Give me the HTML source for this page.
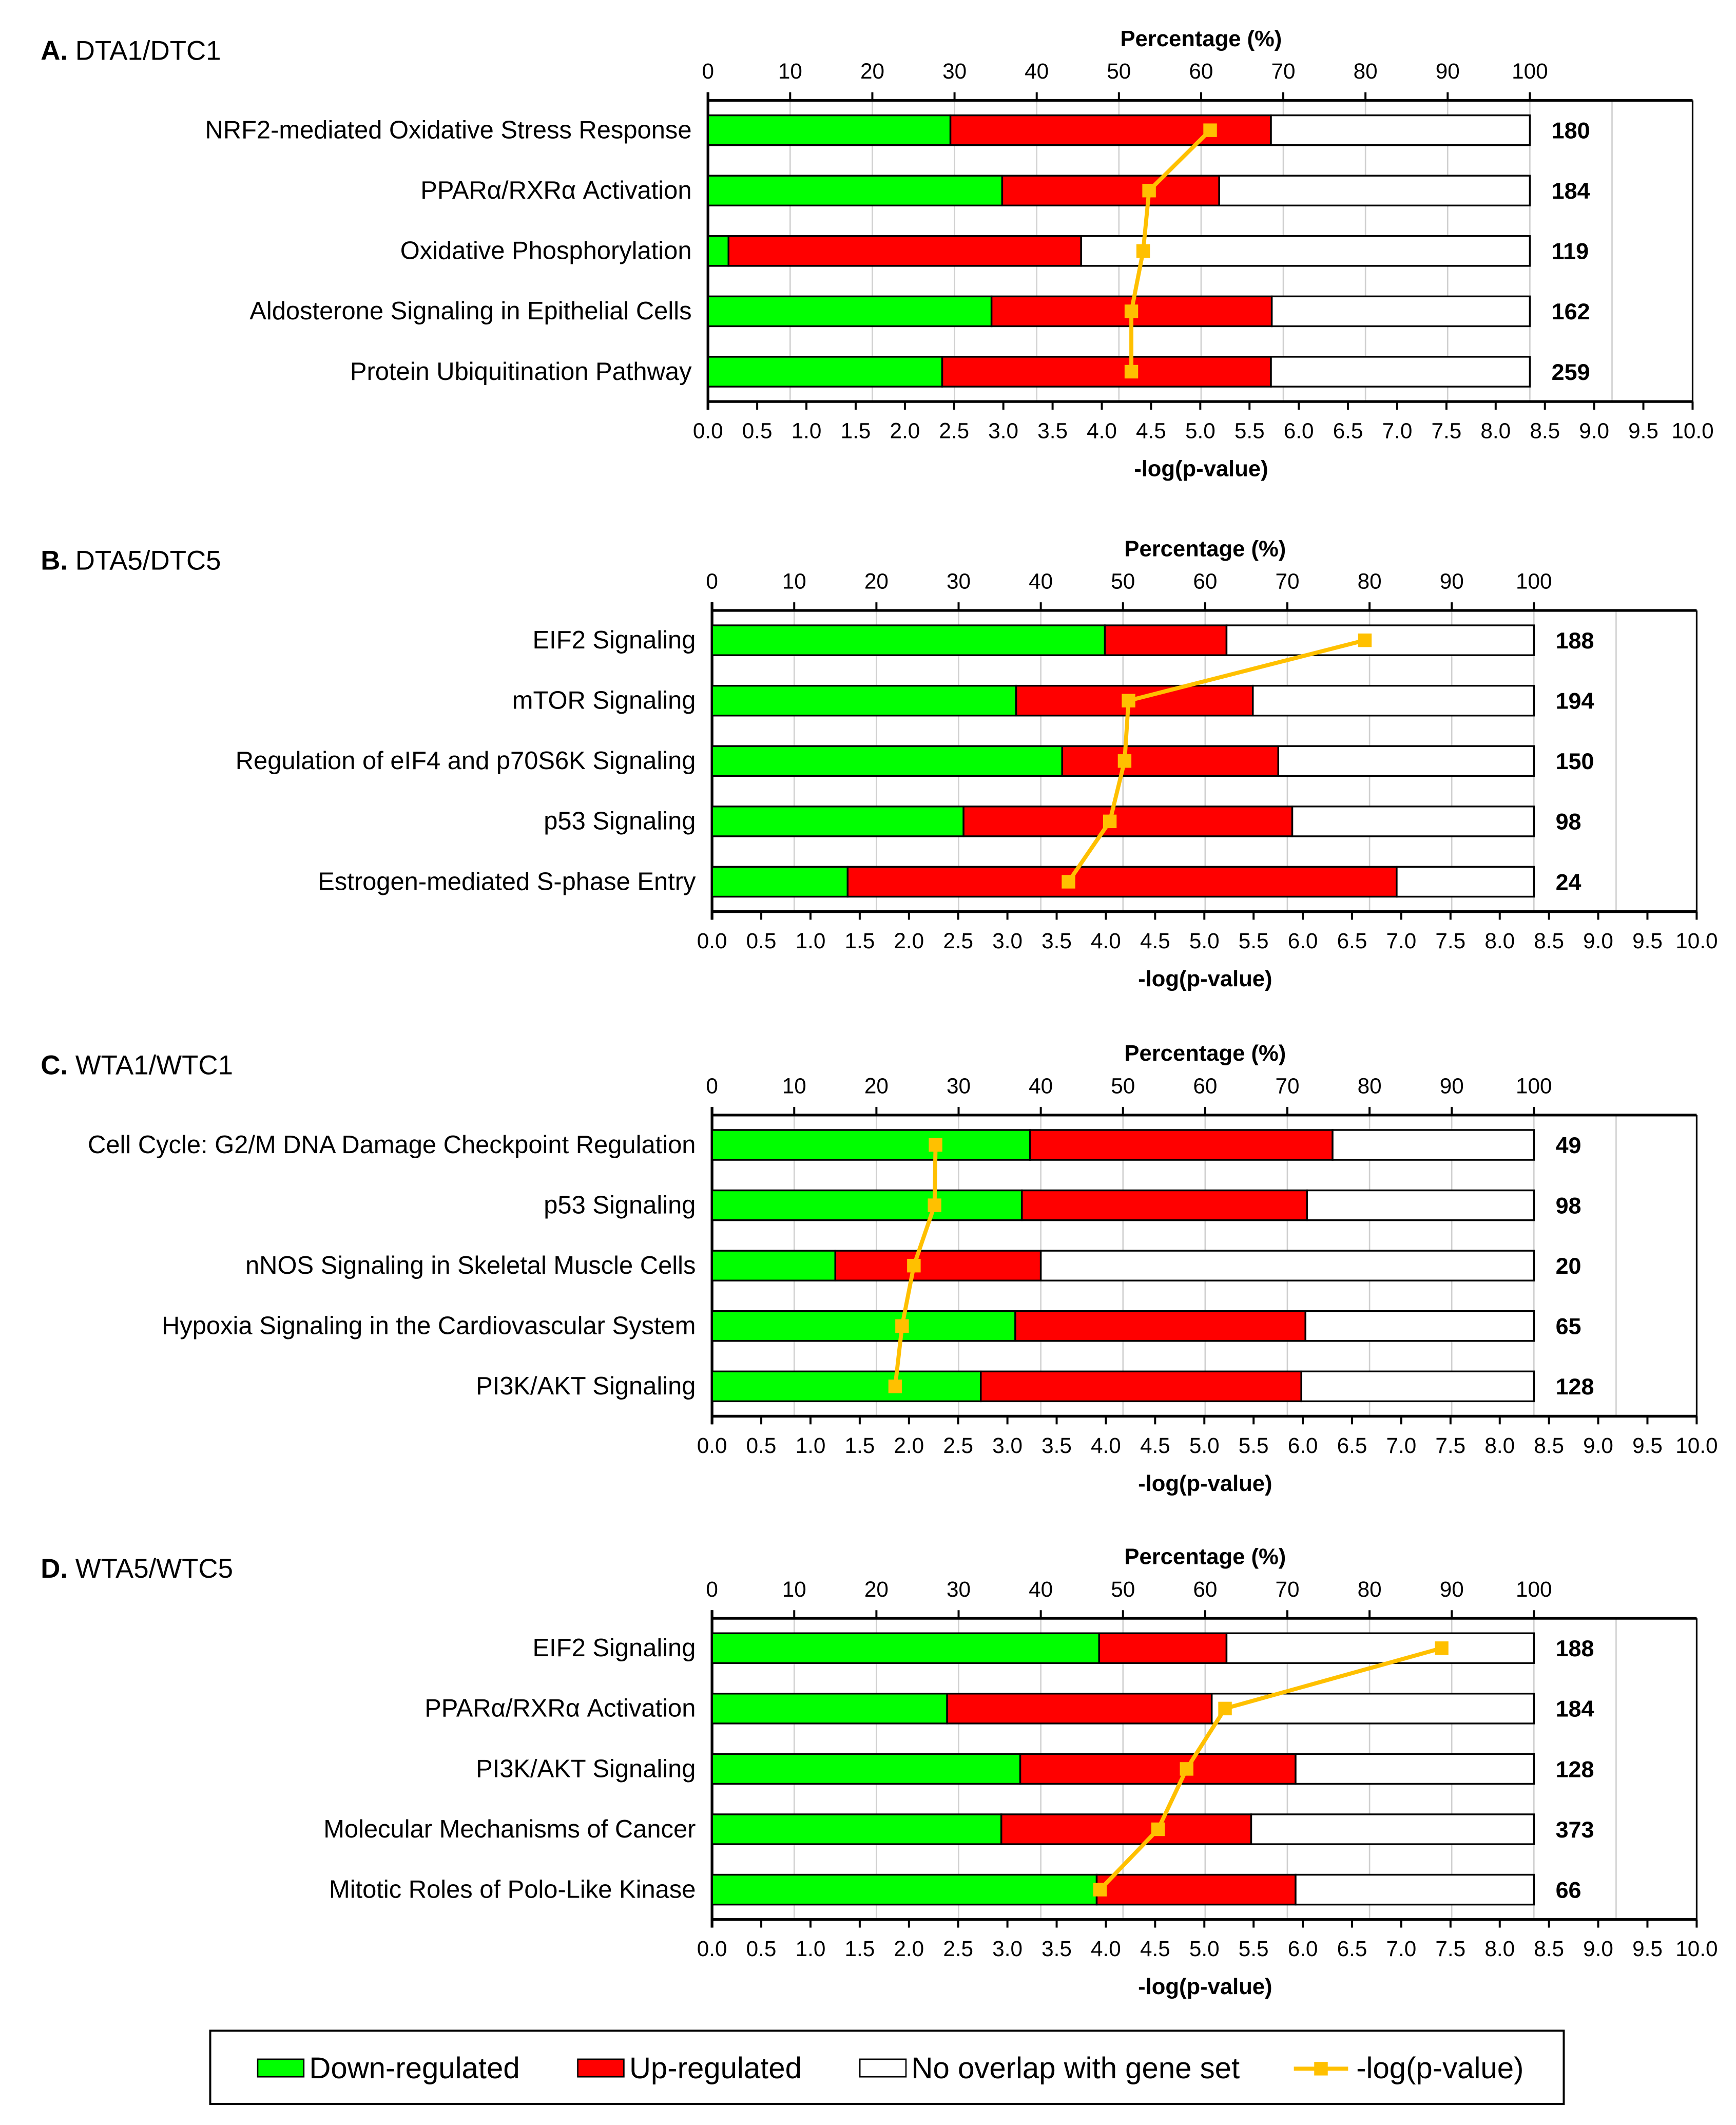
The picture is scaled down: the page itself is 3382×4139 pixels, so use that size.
<!DOCTYPE html>
<html><head><meta charset="utf-8"><style>
html,body{margin:0;padding:0;background:#fff;}
svg{display:block;font-family:"Liberation Sans",Arial,sans-serif;}
</style></head><body>
<svg id="chart" width="3382" height="4139" viewBox="0 0 1280 1566.5" xmlns="http://www.w3.org/2000/svg">
<g id="root"></g>
<g>
<rect x="155" y="1497" width="998" height="54" fill="#fff" stroke="#000" stroke-width="1.5"/>
<rect x="190" y="1518" width="34" height="13" fill="#00ff00" stroke="#000"/>
<text x="228" y="1532" font-size="22">Down-regulated</text>
<rect x="426" y="1518" width="34" height="13" fill="#ff0000" stroke="#000"/>
<text x="464" y="1532" font-size="22">Up-regulated</text>
<rect x="634" y="1518" width="34" height="13" fill="#fff" stroke="#000"/>
<text x="672" y="1532" font-size="22">No overlap with gene set</text>
<line x1="954" y1="1525" x2="994" y2="1525" stroke="#FFC000" stroke-width="3"/>
<rect x="969" y="1520" width="10" height="10" fill="#FFC000"/>
<text x="1000" y="1532" font-size="22">-log(p-value)</text>
</g>
</svg>
<script>
const panelTitles = ["DTA1/DTC1","DTA5/DTC5","WTA1/WTC1","WTA5/WTC5"];
const panelLetters = ["A.","B.","C.","D."];
const categoriesA = ["NRF2-mediated Oxidative Stress Response","PPARα/RXRα Activation","Oxidative Phosphorylation","Aldosterone Signaling in Epithelial Cells","Protein Ubiquitination Pathway"];
const downA = [29.5,35.8,2.5,34.5,28.5];
const upA = [39,26.4,42.9,34.1,40];
const logA = [5.1,4.48,4.42,4.3,4.3];
const countA = [180,184,119,162,259];
const categoriesB = ["EIF2 Signaling","mTOR Signaling","Regulation of eIF4 and p70S6K Signaling","p53 Signaling","Estrogen-mediated S-phase Entry"];
const downB = [47.8,37,42.6,30.6,16.5];
const upB = [14.8,28.8,26.3,40,66.8];
const logB = [6.63,4.23,4.19,4.04,3.62];
const countB = [188,194,150,98,24];
const categoriesC = ["Cell Cycle: G2/M DNA Damage Checkpoint Regulation","p53 Signaling","nNOS Signaling in Skeletal Muscle Cells","Hypoxia Signaling in the Cardiovascular System","PI3K/AKT Signaling"];
const downC = [38.7,37.7,15,36.9,32.7];
const upC = [36.8,34.7,25,35.3,39];
const logC = [2.27,2.26,2.05,1.93,1.86];
const countC = [49,98,20,65,128];
const categoriesD = ["EIF2 Signaling","PPARα/RXRα Activation","PI3K/AKT Signaling","Molecular Mechanisms of Cancer","Mitotic Roles of Polo-Like Kinase"];
const downD = [47.1,28.6,37.5,35.2,46.8];
const upD = [15.5,32.2,33.5,30.4,24.2];
const logD = [7.41,5.21,4.82,4.53,3.94];
const countD = [188,184,128,373,66];
const pctTicks = [0,10,20,30,40,50,60,70,80,90,100];
const logTicks = ["0.0","0.5","1.0","1.5","2.0","2.5","3.0","3.5","4.0","4.5","5.0","5.5","6.0","6.5","7.0","7.5","8.0","8.5","9.0","9.5","10.0"];

const panels = [
 {cats:categoriesA,down:downA,up:upA,log:logA,cnt:countA,x0:522,top:74},
 {cats:categoriesB,down:downB,up:upB,log:logB,cnt:countB,x0:525,top:450},
 {cats:categoriesC,down:downC,up:upC,log:logC,cnt:countC,x0:525,top:822},
 {cats:categoriesD,down:downD,up:upD,log:logD,cnt:countD,x0:525,top:1193}
];
const NS="http://www.w3.org/2000/svg";
const root=document.getElementById('root');
function mk(tag,attrs,parent,txt){const e=document.createElementNS(NS,tag);for(const k in attrs)e.setAttribute(k,attrs[k]);if(txt!==undefined)e.textContent=txt;parent.appendChild(e);return e;}
panels.forEach((p,pi)=>{
  const g=mk('g',{},root);
  
  
  const W=726; const xr=p.x0+W;
  const px=v=>p.x0+v*6.06;
  const lx=v=>p.x0+v*72.6;
  const top=p.top, bot=p.top+222;
  const rowY=i=>top+22+i*44.5;
  const t=mk('text',{x:30,y:top-30,'font-size':20},g);
  mk('tspan',{'font-weight':'bold'},t,panelLetters[pi]+' ');
  mk('tspan',{},t,panelTitles[pi]);
  
  
  for(let k=1;k<=11;k++){const l=mk('line',{x1:px(k*10),x2:px(k*10),y1:top,y2:bot,stroke:'#d0d0d0','stroke-width':1},g);
    
    }
  mk('line',{x1:xr,x2:xr,y1:top,y2:bot,stroke:'#000','stroke-width':1.2},g);
  mk('line',{x1:p.x0,x2:xr,y1:top,y2:top,stroke:'#000','stroke-width':2},g);
  mk('line',{x1:p.x0,x2:xr,y1:bot,y2:bot,stroke:'#000','stroke-width':2},g);
  mk('line',{x1:p.x0,x2:p.x0,y1:top-6,y2:bot+6,stroke:'#000','stroke-width':2},g);
  pctTicks.forEach(v=>{mk('line',{x1:px(v),x2:px(v),y1:top-6,y2:top,stroke:'#000','stroke-width':1.5},g);
    const tt=mk('text',{x:px(v),y:top-16,'font-size':16,'text-anchor':'middle'},g,String(v));
    
    });
  const at=mk('text',{x:px(60),y:top-40,'font-size':16.5,'font-weight':'bold','text-anchor':'middle'},g,'Percentage (%)');
  
  
  logTicks.forEach(s=>{const v=parseFloat(s);mk('line',{x1:lx(v),x2:lx(v),y1:bot,y2:bot+6,stroke:'#000','stroke-width':1.5},g);
    const tt=mk('text',{x:lx(v),y:bot+27,'font-size':16,'text-anchor':'middle'},g,s);
    
    });
  const bt=mk('text',{x:px(60),y:bot+55,'font-size':16.5,'font-weight':'bold','text-anchor':'middle'},g,'-log(p-value)');
  
  
  p.cats.forEach((c,i)=>{
    const y=rowY(i)-11,h=22;
    const d=p.down[i],u=p.up[i];
    const r1=mk('rect',{x:px(0),y:y,width:px(d)-px(0),height:h,fill:'#00ff00',stroke:'#000','stroke-width':1.3},g);
    
    
    const r2=mk('rect',{x:px(d),y:y,width:px(d+u)-px(d),height:h,fill:'#ff0000',stroke:'#000','stroke-width':1.3},g);
    
    
    const r3=mk('rect',{x:px(d+u),y:y,width:px(100)-px(d+u),height:h,fill:'#fff',stroke:'#000','stroke-width':1.3},g);
    
    
    const lb=mk('text',{x:p.x0-12,y:rowY(i)+6,'font-size':18.5,'text-anchor':'end'},g,c);
    
    
    const cn=mk('text',{x:px(100)+16,y:rowY(i)+6,'font-size':17,'font-weight':'bold'},g,String(p.cnt[i]));
    
    
  });
  const pts=p.log.map((v,i)=>lx(v)+','+rowY(i)).join(' ');
  const pl=mk('polyline',{points:pts,fill:'none',stroke:'#FFC000','stroke-width':3},g);
  
  
  p.log.forEach((v,i)=>{const m=mk('rect',{x:lx(v)-5,y:rowY(i)-5,width:10,height:10,fill:'#FFC000'},g);
    
    });
});
</script>
</body></html>
